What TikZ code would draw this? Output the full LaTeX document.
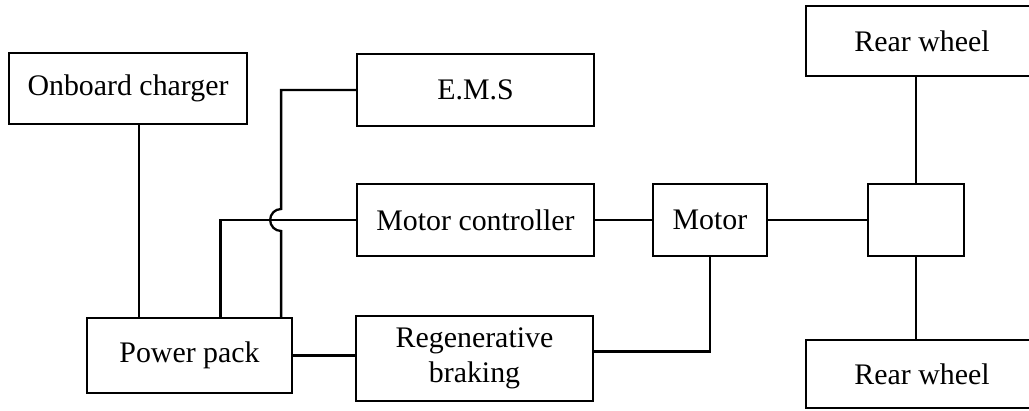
\documentclass[tikz,border=0pt]{standalone}
\usepackage{fontspec}
\setmainfont{Liberation Serif}
\usepackage{tikz}
\usetikzlibrary{calc}
\tikzstyle{blk} = [rectangle, draw=black, line width=1.3pt, fill=white, text centered, align=center, inner sep=2pt, font=\fontsize{17}{20}\selectfont]
\tikzstyle{wire} = [line width=1.3pt]

\begin{document}
\begin{tikzpicture}[x=0.02cm, y=0.02cm]
  \clip[use as bounding box] (0,0) rectangle (1029,410);
  % ---------- blocks at explicit positions ----------
  % top row
  \node[blk, minimum width=4.76cm, minimum height=1.42cm] (charger) at (128, 321.5) {Onboard charger};
  \node[blk, minimum width=4.74cm, minimum height=1.44cm] (ems)     at (475.5, 320)  {E.M.S};
  \node[blk, minimum width=4.64cm, minimum height=1.40cm] (rwtop)   at (922, 369)    {Rear wheel};
  % middle row
  \node[blk, minimum width=4.74cm, minimum height=1.44cm] (ctrl)  at (475.5, 190) {Motor controller};
  \node[blk, minimum width=2.28cm, minimum height=1.44cm] (motor) at (710, 190)   {Motor};
  \node[blk, minimum width=1.92cm, minimum height=1.44cm] (diff)  at (916, 190)   {};
  % bottom row
  \node[blk, minimum width=4.10cm, minimum height=1.50cm] (pack)  at (189.5, 54.5) {Power pack};
  \node[blk, minimum width=4.74cm, minimum height=1.70cm] (regen) at (474.5, 51.5) {Regenerative\\braking};
  \node[blk, minimum width=4.64cm, minimum height=1.36cm] (rwbot) at (922, 36)     {Rear wheel};
  % ---------- connections ----------
  \coordinate (c1) at ([xshift=0.22cm]charger.south);
  \coordinate (m1) at ([xshift=0.62cm]pack.north);
  \coordinate (e1) at ([xshift=-0.24cm]pack.north east);
  \draw[wire] (c1) -- (c1 |- pack.north);
  \draw[wire] (m1) |- (ctrl.west);
  % power pack to E.M.S, hopping over the controller line
  \draw[wire] (e1) -- ($(e1 |- ctrl.west)+(0,-11)$)
    arc[start angle=270, end angle=90, radius=0.22cm]
    -- (e1 |- ems.west) -- (ems.west);
  \draw[wire] (pack.east) -- (pack.east -| regen.west);
  \draw[wire] (ctrl.east) -- (motor.west);
  \draw[wire] (motor.east) -- (diff.west);
  \draw[wire] ([yshift=0.14cm]regen.east) -| (motor.south);
  \draw[wire] (diff.north) -- (diff.north |- rwtop.south);
  \draw[wire] (diff.south) -- (diff.south |- rwbot.north);
\end{tikzpicture}
\end{document}
